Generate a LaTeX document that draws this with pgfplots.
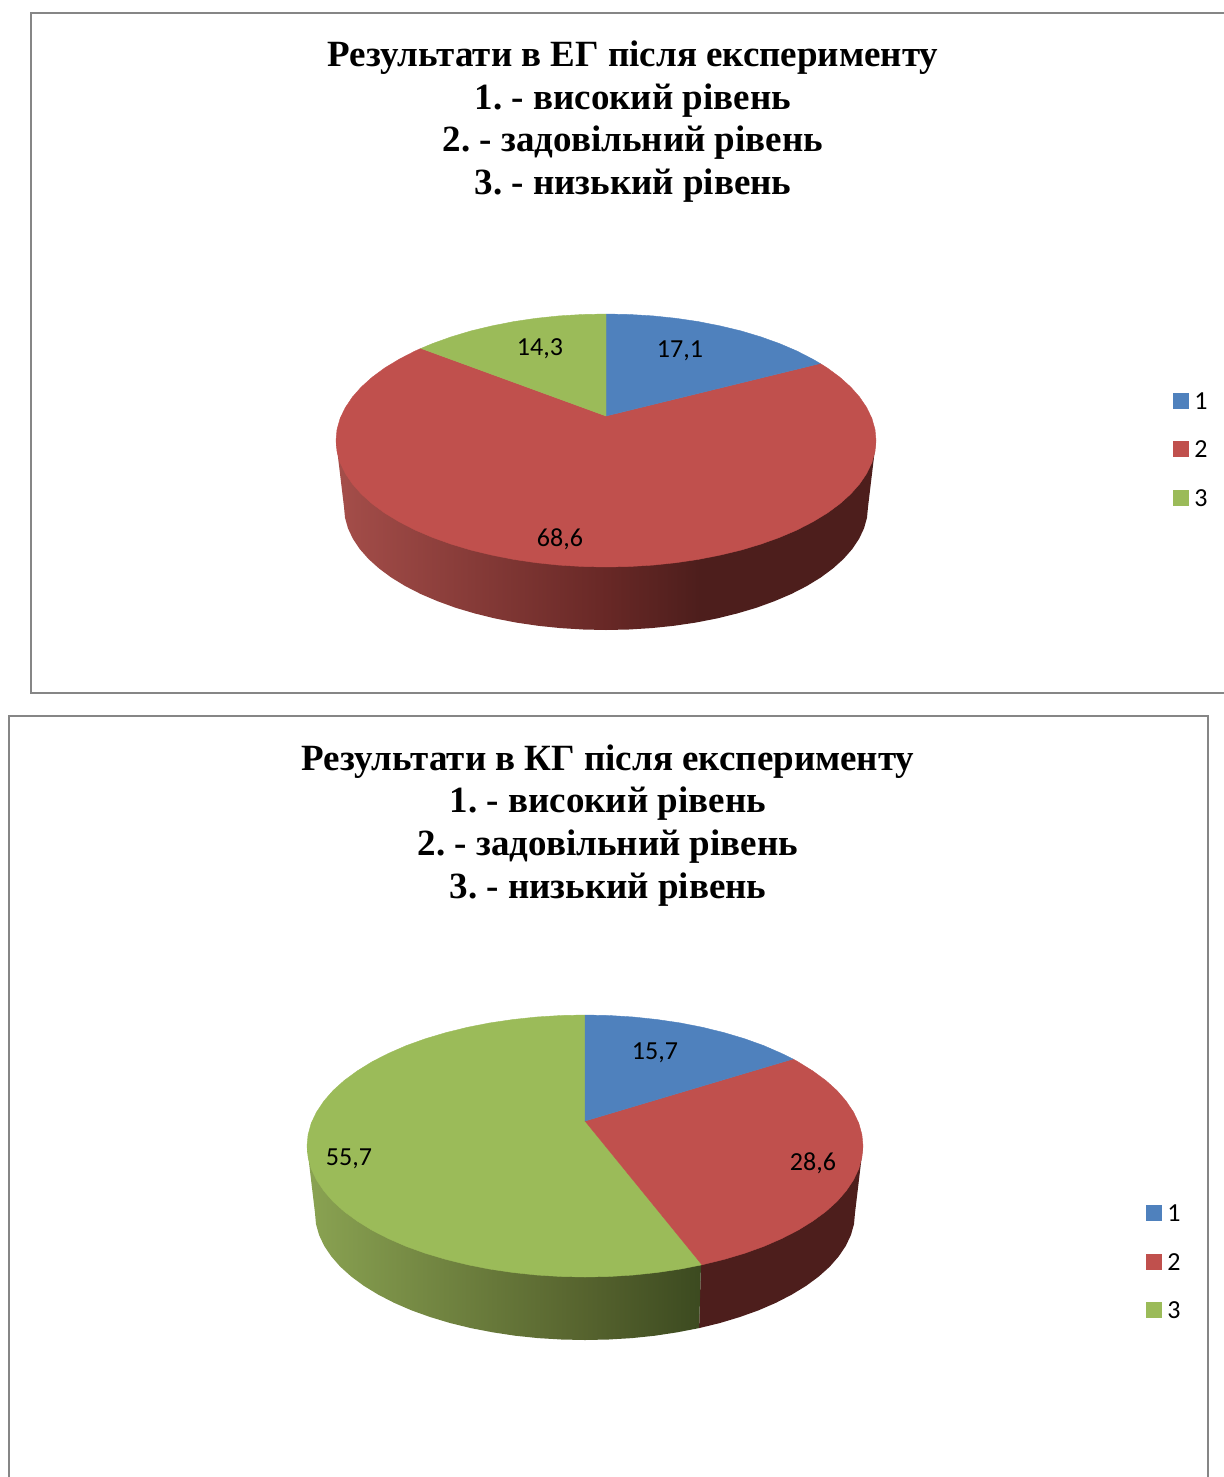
\documentclass[border=0pt]{standalone}
\usepackage{fontspec}
\setmainfont{Liberation Serif}
\newfontfamily\lab{Carlito}
\usepackage{pgfplots}
\usepackage{pgfplotstable}
\pgfplotsset{compat=1.18}
\definecolor{pblue}{HTML}{4F81BD}
\definecolor{pred}{HTML}{C0504D}
\definecolor{pgreen}{HTML}{9BBB59}
\definecolor{pdark}{HTML}{4D1E1C}
\definecolor{fr}{HTML}{868686}
\definecolor{ra}{RGB}{165,78,74}
\definecolor{rb}{RGB}{104,40,38}
\definecolor{ga}{RGB}{138,163,82}
\definecolor{gb}{RGB}{86,99,46}
\definecolor{gc}{RGB}{60,74,32}
\pgfdeclarehorizontalshading{redside}{100bp}{color(0bp)=(ra);color(25bp)=(ra);color(50bp)=(rb);color(58.7bp)=(pdark);color(75bp)=(pdark);color(100bp)=(pdark)}
\pgfdeclarehorizontalshading{greenside}{100bp}{color(0bp)=(ga);color(25bp)=(ga);color(60.3bp)=(gb);color(75bp)=(gc);color(100bp)=(gc)}
\pgfplotstableread{
x y label
680 351 17,1
540 349 14,3
560 539 68,6
655 1053 15,7
813 1163 28,6
349 1159 55,7
}\valuelabels
\pgfplotstableread{
x y label
1201 401 1
1201 449 2
1201 498 3
1174 1213 1
1174 1262 2
1174 1310 3
}\legendlabels
\tikzset{ttl/.style={font=\fontsize{18.5pt}{21pt}\selectfont\bfseries,anchor=base}}
\frenchspacing
\begin{document}
\begin{tikzpicture}
\begin{axis}[
  name=main,
  scale only axis, width=612pt, height=738.5pt,
  xmin=0, xmax=1224, ymin=0, ymax=1477, y dir=reverse,
  axis lines=none, clip=true,
  nodes near coords style={anchor=center,font=\lab\fontsize{13pt}{15pt}\selectfont,text=black},
]
% frames
\addplot[fr,line width=1pt,mark=none] coordinates {(1224,12.5)(30.5,12.5)(30.5,693)(1224,693)};
\addplot[fr,line width=1pt,mark=none] coordinates {(8.5,1477)(8.5,715.5)(1208,715.5)(1208,1477)};
% chart 1: side
\addplot[draw=none,shade,shading=redside,mark=none] coordinates {(336,440.5)(344,507)(345,517.7)(348,528.4)(352.9,538.8)(359.8,549.1)(368.5,559)(379.1,568.5)(391.4,577.6)(405.3,586.1)(420.7,594)(437.6,601.2)(455.7,607.8)(475,613.5)(495.3,618.5)(516.4,622.6)(538.2,625.8)(560.5,628.1)(583.2,629.5)(606,630)(628.8,629.5)(651.5,628.1)(673.8,625.8)(695.6,622.6)(716.7,618.5)(737,613.5)(756.3,607.8)(774.4,601.2)(791.3,594)(806.7,586.1)(820.6,577.6)(832.9,568.5)(843.5,559)(852.2,549.1)(859.1,538.8)(864,528.4)(867,517.7)(868,507)(876,440.5)} --cycle;
% chart 1: top
\addplot[pred,fill=pred,line width=0.2pt,mark=none] coordinates {(606,416)(820.2,363.5)(827.2,367.9)(839.8,377.2)(850.7,387)(859.7,397.2)(866.8,407.8)(871.9,418.5)(875,429.5)(876,440.5)(875,451.5)(871.9,462.5)(866.8,473.2)(859.7,483.8)(850.7,494)(839.8,503.8)(827.2,513.1)(812.8,521.8)(796.9,530)(779.6,537.4)(760.9,544.1)(741,550.1)(720.1,555.1)(698.3,559.4)(675.9,562.7)(652.9,565.1)(629.5,566.5)(606,567)(582.5,566.5)(559.1,565.1)(536.1,562.7)(513.7,559.4)(491.9,555.1)(471,550.1)(451.1,544.1)(432.4,537.4)(415.1,530)(399.2,521.8)(384.8,513.1)(372.2,503.8)(361.3,494)(352.3,483.8)(345.2,473.2)(340.1,462.5)(337,451.5)(336,440.5)(337,429.5)(340.1,418.5)(345.2,407.8)(352.3,397.2)(361.3,387)(372.2,377.2)(384.8,367.9)(399.2,359.2)(415.1,351)(421,348.4)} --cycle;
\addplot[pblue,fill=pblue,line width=0.2pt,mark=none] coordinates {(606,416)(606,314)(629.5,314.5)(652.9,315.9)(675.9,318.3)(698.3,321.6)(720.1,325.9)(741,330.9)(760.9,336.9)(779.6,343.6)(796.9,351)(812.8,359.2)(820.2,363.5)} --cycle;
\addplot[pgreen,fill=pgreen,line width=0.2pt,mark=none] coordinates {(606,416)(421,348.4)(432.4,343.6)(451.1,336.9)(471,330.9)(491.9,325.9)(513.7,321.6)(536.1,318.3)(559.1,315.9)(582.5,314.5)(606,314)} --cycle;
% chart 2: side
\addplot[draw=none,fill=pdark,mark=none] coordinates {(701,1264)(699.1,1328.1)(720,1323)(739.9,1317)(758.6,1310.3)(775.9,1302.8)(791.8,1294.6)(806.2,1285.8)(818.8,1276.5)(829.7,1266.7)(838.7,1256.4)(845.8,1245.9)(850.9,1235.1)(854,1224.1)(855,1213)(863,1146)} --cycle;
\addplot[draw=none,shade,shading=greenside,mark=none] coordinates {(307,1146)(315,1213)(316,1224.1)(319.1,1235.1)(324.2,1245.9)(331.3,1256.4)(340.3,1266.7)(351.2,1276.5)(363.8,1285.8)(378.2,1294.6)(394.1,1302.8)(411.4,1310.3)(430.1,1317)(450,1323)(470.9,1328.1)(492.7,1332.3)(515.1,1335.7)(538.1,1338.1)(561.5,1339.5)(585,1340)(608.5,1339.5)(631.9,1338.1)(654.9,1335.7)(677.3,1332.3)(699.1,1328.1)(701,1264)} --cycle;
% chart 2: top
\addplot[pgreen,fill=pgreen,line width=0.2pt,mark=none] coordinates {(585,1121)(702,1264.8)(680.1,1269.1)(656.9,1272.5)(633.3,1275)(609.2,1276.5)(585,1277)(560.8,1276.5)(536.7,1275)(513.1,1272.5)(489.9,1269.1)(467.5,1264.7)(446,1259.4)(425.5,1253.3)(406.3,1246.4)(388.4,1238.6)(372,1230.2)(357.3,1221.1)(344.2,1211.5)(333,1201.4)(323.8,1190.8)(316.5,1179.9)(311.2,1168.7)(308.1,1157.4)(307,1146)(308.1,1134.6)(311.2,1123.3)(316.5,1112.1)(323.8,1101.2)(333,1090.6)(344.2,1080.5)(357.3,1070.9)(372,1061.8)(388.4,1053.4)(406.3,1045.6)(425.5,1038.7)(446,1032.6)(467.5,1027.3)(489.9,1022.9)(513.1,1019.5)(536.7,1017)(560.8,1015.5)(585,1015)} --cycle;
\addplot[pred,fill=pred,line width=0.2pt,mark=none] coordinates {(585,1121)(793,1059)(798,1061.8)(812.7,1070.9)(825.8,1080.5)(837,1090.6)(846.2,1101.2)(853.5,1112.1)(858.8,1123.3)(861.9,1134.6)(863,1146)(861.9,1157.4)(858.8,1168.7)(853.5,1179.9)(846.2,1190.8)(837,1201.4)(825.8,1211.5)(812.7,1221.1)(798,1230.2)(781.6,1238.6)(763.7,1246.4)(744.5,1253.3)(724,1259.4)(702,1264.8)} --cycle;
\addplot[pblue,fill=pblue,line width=0.2pt,mark=none] coordinates {(585,1121)(585,1015)(609.2,1015.5)(633.3,1017)(656.9,1019.5)(680.1,1022.9)(702.5,1027.3)(724,1032.6)(744.5,1038.7)(763.7,1045.6)(781.6,1053.4)(793,1059)} --cycle;
% value labels
\addplot[draw=none,mark=none,point meta=explicit symbolic,nodes near coords] table[x=x,y=y,meta=label] {\valuelabels};
% legends
\addplot[only marks,mark=square*,mark size=3.75pt,pblue] coordinates {(1181,401)(1154,1213)};
\addplot[only marks,mark=square*,mark size=3.75pt,pred] coordinates {(1181,449)(1154,1262)};
\addplot[only marks,mark=square*,mark size=3.75pt,pgreen] coordinates {(1181,498)(1154,1310)};
\addplot[draw=none,mark=none,point meta=explicit symbolic,nodes near coords] table[x=x,y=y,meta=label] {\legendlabels};
% titles
\node[ttl] at (axis cs:633,66) {Результати в ЕГ після експерименту};
\node[ttl] at (axis cs:633,109) {1. - високий рівень};
\node[ttl] at (axis cs:633,151) {2. - задовільний рівень};
\node[ttl] at (axis cs:633,194) {3. - низький рівень};
\node[ttl] at (axis cs:608,770) {Результати в КГ після експерименту};
\node[ttl] at (axis cs:608,812) {1. - високий рівень};
\node[ttl] at (axis cs:608,855) {2. - задовільний рівень};
\node[ttl] at (axis cs:608,898) {3. - низький рівень};
\end{axis}
\path (main.south west) rectangle (main.north east);
\end{tikzpicture}
\end{document}
